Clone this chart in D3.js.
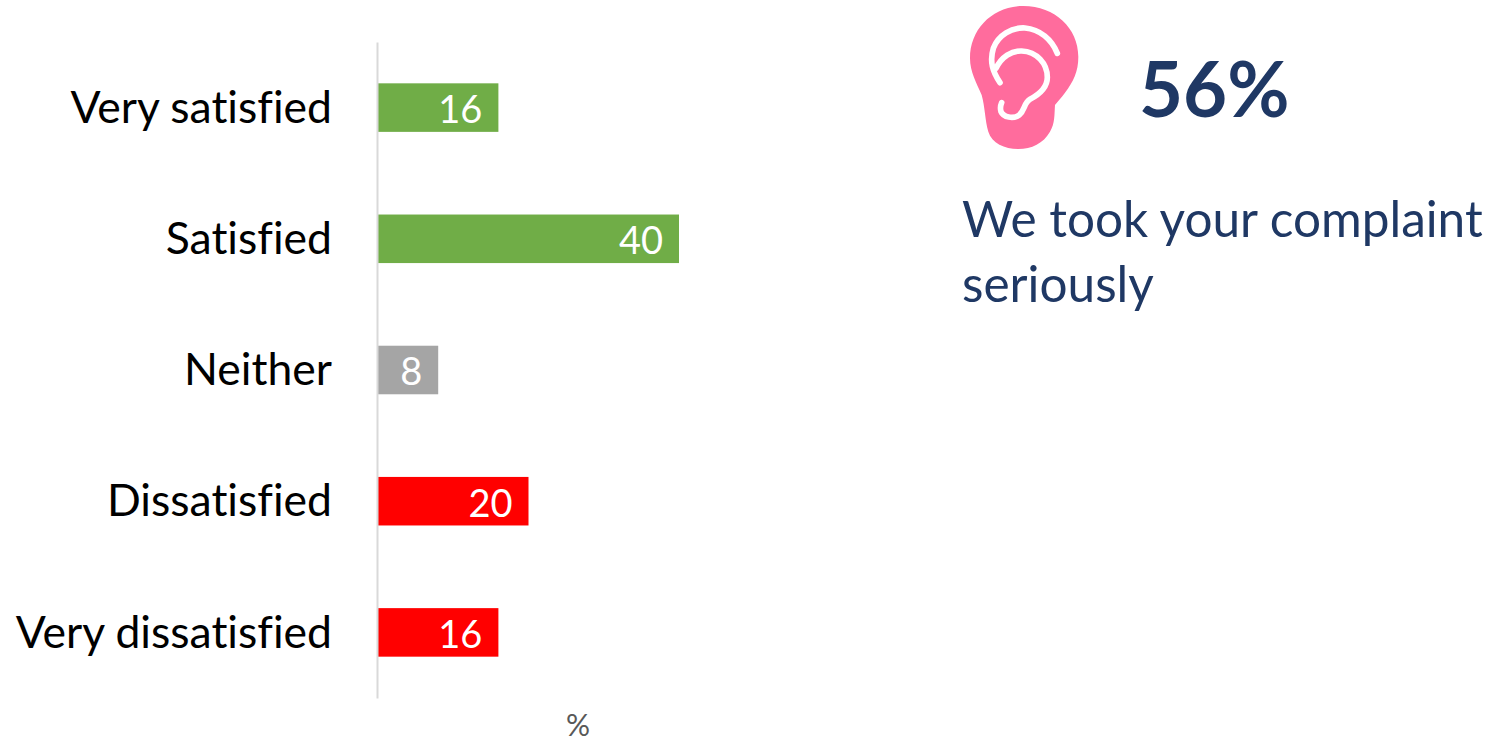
<!DOCTYPE html>
<html>
<head>
<meta charset="utf-8">
<script src="https://cdn.jsdelivr.net/npm/d3@7"></script>
<style>
  html, body { margin: 0; padding: 0; background: #fff; overflow: hidden; }
  text { font-family: Lato, "Open Sans", sans-serif; font-variant-ligatures: none; }
</style>
</head>
<body>
<svg id="chart" width="1491" height="743"></svg>
<script>
var categories = ["Very satisfied", "Satisfied", "Neither", "Dissatisfied", "Very dissatisfied"];
var values = [16, 40, 8, 20, 16];
var barColors = ["#70ad47", "#70ad47", "#a5a5a5", "#ff0000", "#ff0000"];
var headline = "56%";
var captionLines = ["We took your complaint", "seriously"];
var navy = "#1f3864";

var svg = d3.select("#chart");

var x = d3.scaleLinear().domain([0, 40]).range([378, 679]);
var y = d3.scaleBand().domain(categories).range([42, 698]).paddingInner(0.63).paddingOuter(0.315);

// bars
svg.append("g")
    .selectAll("rect")
    .data(values)
    .enter()
    .append("rect")
    .attr("x", x(0))
    .attr("y", function(d, i){ return y(categories[i]); })
    .attr("width", function(d){ return x(d) - x(0); })
    .attr("height", y.bandwidth())
    .attr("fill", function(d, i){ return barColors[i]; });

// category axis
var axis = svg.append("g")
    .attr("transform", "translate(377,0)")
    .call(d3.axisLeft(y).tickSize(0).tickPadding(45));
axis.select(".domain").attr("stroke", "#d9d9d9").attr("stroke-width", 2);
axis.selectAll("text")
    .attr("font-family", "Lato, 'Open Sans', sans-serif")
    .attr("font-size", 44.5)
    .attr("dy", "0.34em")
    .attr("fill", "#000");

// value labels inside bar end
svg.append("g")
    .selectAll("text")
    .data(values)
    .enter()
    .append("text")
    .attr("x", function(d){ return x(d) - 16; })
    .attr("y", function(d, i){ return y(categories[i]) + y.bandwidth() / 2 + 2; })
    .attr("dy", "0.35em")
    .attr("text-anchor", "end")
    .attr("font-size", 38)
    .attr("fill", "#fff")
    .text(function(d){ return d; });

svg.append("text")
    .attr("x", 578)
    .attr("y", 736)
    .attr("text-anchor", "middle")
    .attr("font-size", 30)
    .attr("fill", "#595959")
    .text("%");

// ear icon at 3x
var ear = svg.append("g").attr("transform", "translate(950,0) scale(0.3333)");
ear.append("path")
    .attr("fill", "#ff6c9d")
    .attr("d", "M220,18 C315,18 385,85 385,170 C385,215 370,245 345,278 C335,292 322,305 315,315 C313,345 315,370 300,395 C280,430 245,447 205,447 C165,447 125,430 115,395 C105,360 105,320 95,285 C80,250 60,215 60,175 C60,85 130,18 220,18 Z");
ear.append("path")
    .attr("fill", "none")
    .attr("stroke", "#fff")
    .attr("stroke-width", 17)
    .attr("stroke-linecap", "round")
    .attr("stroke-linejoin", "round")
    .attr("d", "M150,248 C128,215 118,185 130,145 C145,105 185,82 225,84 C270,88 305,118 322,160");
ear.append("path")
    .attr("fill", "none")
    .attr("stroke", "#fff")
    .attr("stroke-width", 17)
    .attr("stroke-linecap", "round")
    .attr("stroke-linejoin", "round")
    .attr("d", "M138,205 C155,170 185,152 215,153 C260,155 292,190 292,232 C292,262 265,285 240,298 C222,308 225,330 208,345 C190,358 160,352 153,335 C150,325 152,315 155,308");

svg.append("text")
    .attr("x", 1139)
    .attr("y", 117)
    .attr("font-size", 76)
    .attr("font-weight", 700)
    .attr("fill", navy)
    .text(headline);

svg.append("g")
    .selectAll("text")
    .data(captionLines)
    .enter()
    .append("text")
    .attr("x", 962)
    .attr("y", function(d, i){ return 237 + i * 65; })
    .attr("font-size", 49.5)
    .attr("fill", navy)
    .text(function(d){ return d; });
</script>
</body>
</html>
